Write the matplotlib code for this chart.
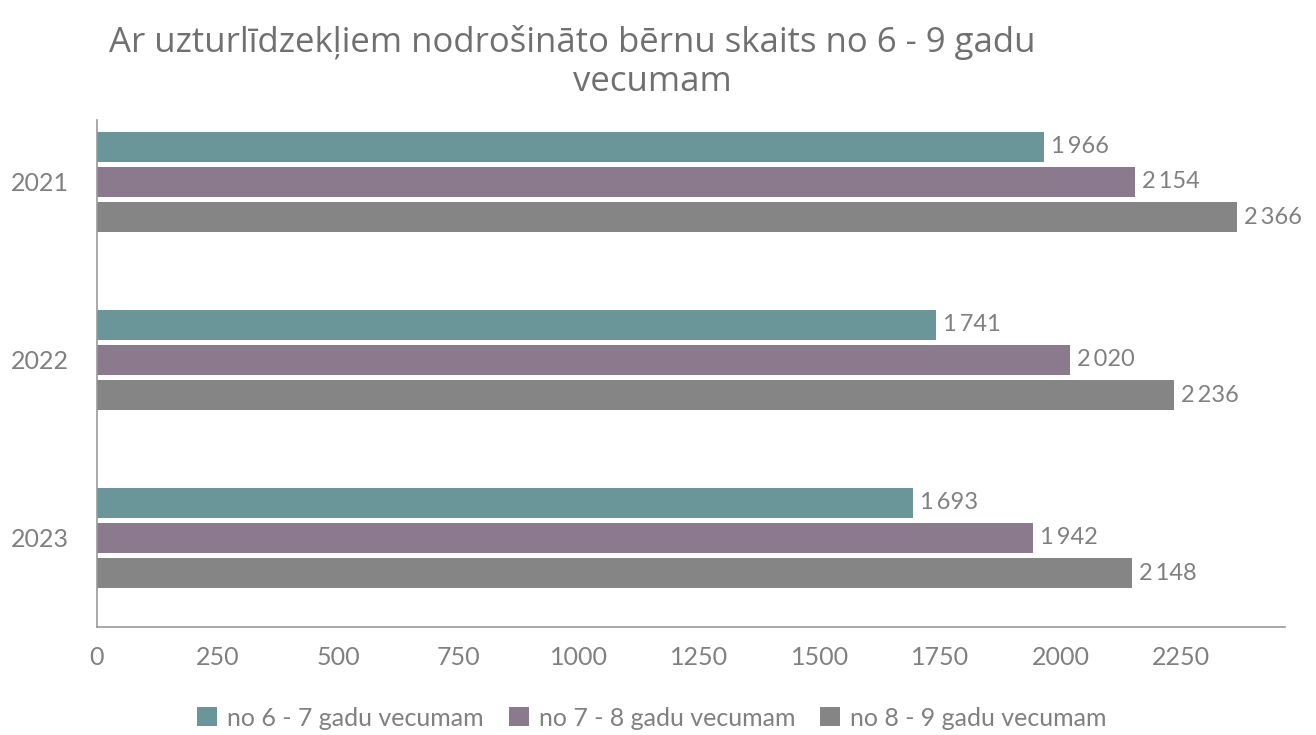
import matplotlib
matplotlib.use("Agg")
import matplotlib.pyplot as plt
import numpy as np

plt.rcParams['font.family'] = ['Lato', 'DejaVu Sans']

years = ["2021", "2022", "2023"]
series_names = ["no 6 - 7 gadu vecumam", "no 7 - 8 gadu vecumam", "no 8 - 9 gadu vecumam"]
values_6_7 = [1966, 1741, 1693]
values_7_8 = [2154, 2020, 1942]
values_8_9 = [2366, 2236, 2148]
colors = ["#6A9699", "#8B7A8E", "#858585"]
xticks = [0, 250, 500, 750, 1000, 1250, 1500, 1750, 2000, 2250]

txt = "#808080"
fig = plt.figure(figsize=(13.16, 7.35), dpi=100)
ax = fig.add_axes([97/1316, 1-627/735, (1285-97)/1316, (627-120)/735])

y = np.arange(len(years))
pitch = 0.197
h = 0.169
all_series = [values_6_7, values_7_8, values_8_9]
for i, (vals, c, name) in enumerate(zip(all_series, colors, series_names)):
    pos = y + (i - 1) * pitch
    bars = ax.barh(pos, vals, height=h, color=c, label=name)
    for b, v in zip(bars, vals):
        s = f"{v:,}".replace(",", "\u2009")
        ax.annotate(s, (b.get_width(), b.get_y() + b.get_height()/2),
                    xytext=(5, 0), textcoords="offset points",
                    va="center", ha="left", fontsize=17, color=txt)

ax.set_ylim(2.5, -0.348)
ax.set_xlim(0, 2466)
ax.set_yticks(y)
ax.set_yticklabels(years)
ax.set_xticks(xticks)
ax.set_xticklabels([str(t) for t in xticks])
ax.tick_params(axis='both', length=0, labelsize=18, colors=txt)
ax.tick_params(axis='x', pad=14)
ax.tick_params(axis='y', pad=20)
for s in ["top", "right"]:
    ax.spines[s].set_visible(False)
for s in ["left", "bottom"]:
    ax.spines[s].set_color("#999999")
    ax.spines[s].set_linewidth(1.2)

fig.text(572/1316, 1-42/735, "Ar uzturlīdzekļiem nodrošināto bērnu skaits no 6 - 9 gadu",
         ha="center", va="center", fontsize=25, color="#707070", family=["Open Sans", "DejaVu Sans"])
fig.text(652/1316, 1-82/735, "vecumam",
         ha="center", va="center", fontsize=25, color="#707070", family=["Open Sans", "DejaVu Sans"])

leg = fig.legend(loc="center", bbox_to_anchor=(652/1316, 1-718/735), ncol=3,
                 frameon=False, prop={"size": 18},
                 handlelength=0.8, handleheight=0.8,
                 handletextpad=0.4, columnspacing=1.0)
for t in leg.get_texts():
    t.set_color(txt)

fig.savefig("out.png", dpi=100)
